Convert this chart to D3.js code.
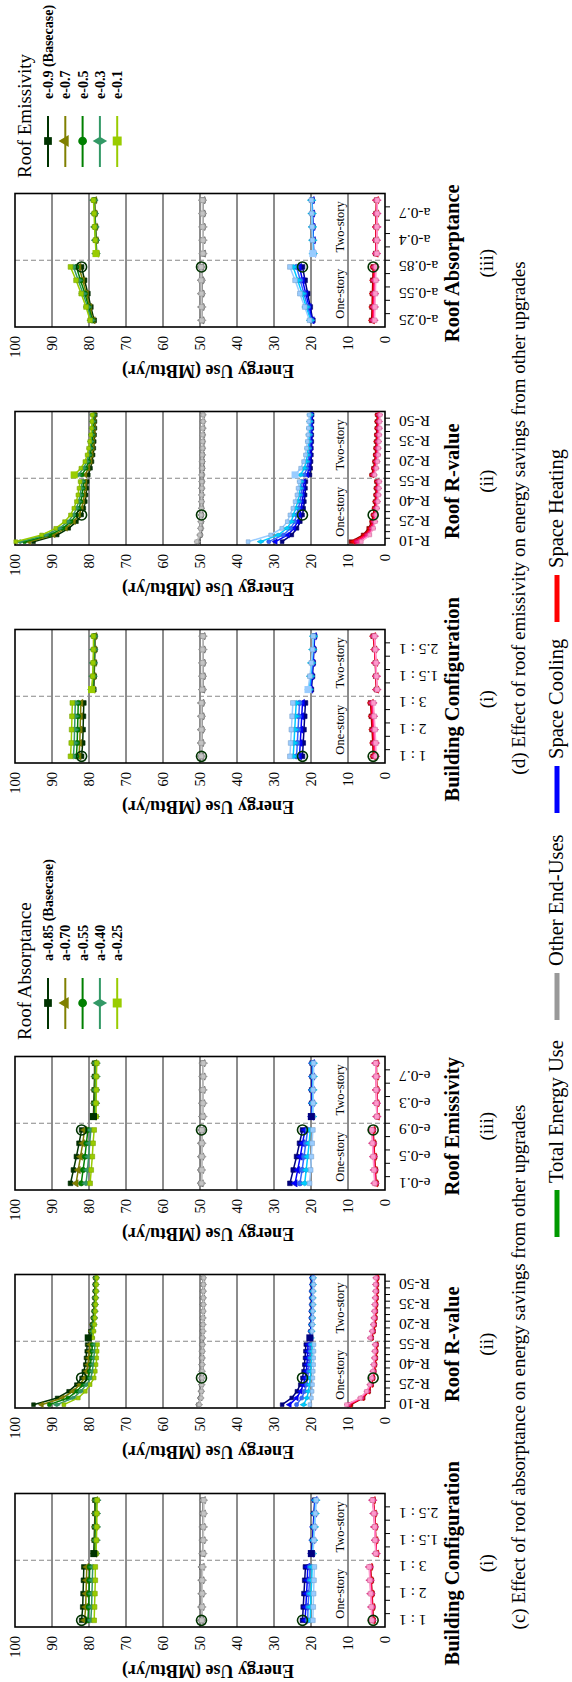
<!DOCTYPE html>
<html><head><meta charset="utf-8">
<script src="https://cdn.jsdelivr.net/npm/d3@7"></script>
<style>
body{margin:0;background:#fff}
svg{display:block}
text{font-family:"Liberation Serif","Times New Roman",serif;fill:#000}
</style></head>
<body><svg id="chart" width="572" height="1682"></svg>
<script>
// ---------------- categories & labels ----------------
const bcCats = ["1 : 1","1.5 : 1","2 : 1","2.5 : 1","3 : 1","1 : 1","1.5 : 1","2 : 1","2.5 : 1","3 : 1"];
const rCats = ["R-10","R-15","R-20","R-25","R-30","R-35","R-40","R-45","R-50","R-55",
               "R-10","R-15","R-20","R-25","R-30","R-35","R-40","R-45","R-50","R-55"];
const eCats = ["e-0.1","e-0.3","e-0.5","e-0.7","e-0.9","e-0.1","e-0.3","e-0.5","e-0.7","e-0.9"];
const aCats = ["a-0.25","a-0.4","a-0.55","a-0.7","a-0.85","a-0.25","a-0.4","a-0.55","a-0.7","a-0.85"];
const yTicks = [0,10,20,30,40,50,60,70,80,90,100];
const absSeries = ["a-0.85 (Basecase)","a-0.70","a-0.55","a-0.40","a-0.25"];
const emiSeries = ["e-0.9 (Basecase)","e-0.7","e-0.5","e-0.3","e-0.1"];
const groupNames = ["Total Energy Use","Other End-Uses","Space Cooling","Space Heating"];
// basecase (a-0.85, e-0.9, R-30, 1:1): total, other, cooling, heating
const basecase = [82.0, 49.6, 22.3, 3.2];

// ---------------- (c) absorptance series: a-0.85, a-0.70, a-0.55, a-0.40, a-0.25 ----------------
const cBC_total = [
 [82.0,81.7,81.6,81.5,81.4, 78.7,78.6,78.5,78.4,78.4],
 [81.2,80.9,80.8,80.7,80.6, 78.5,78.4,78.3,78.3,78.2],
 [80.3,80.1,80.0,79.9,79.8, 78.4,78.3,78.2,78.1,78.1],
 [79.5,79.3,79.2,79.1,79.0, 78.2,78.1,78.0,78.0,77.9],
 [78.6,78.5,78.4,78.3,78.3, 78.1,78.0,77.9,77.9,77.8]];
const cBC_other = [
 [49.6,49.6,49.5,49.5,49.5, 49.3,49.2,49.2,49.2,49.2],
 [49.6,49.5,49.5,49.5,49.4, 49.2,49.2,49.2,49.1,49.1],
 [49.5,49.5,49.5,49.4,49.4, 49.2,49.2,49.1,49.1,49.1],
 [49.5,49.5,49.4,49.4,49.4, 49.2,49.1,49.1,49.1,49.1],
 [49.5,49.4,49.4,49.4,49.3, 49.1,49.1,49.1,49.0,49.0]];
const cBC_cool = [
 [22.3,22.1,21.9,21.7,21.5, 19.9,19.6,19.4,19.2,19.0],
 [21.6,21.4,21.2,21.0,20.9, 19.8,19.5,19.3,19.1,18.9],
 [20.9,20.8,20.6,20.4,20.3, 19.7,19.4,19.2,19.0,18.8],
 [20.2,20.1,20.0,19.8,19.7, 19.6,19.3,19.1,18.9,18.7],
 [19.5,19.4,19.3,19.2,19.1, 19.5,19.2,19.0,18.8,18.6]];
const cBC_heat = [
 [3.2,3.3,3.5,3.7,3.9, 2.3,2.5,2.6,2.8,3.2],
 [3.3,3.4,3.6,3.8,4.0, 2.3,2.5,2.7,2.9,3.2],
 [3.4,3.5,3.7,3.9,4.1, 2.4,2.6,2.7,2.9,3.3],
 [3.5,3.6,3.8,4.0,4.2, 2.4,2.6,2.8,3.0,3.3],
 [3.6,3.7,3.9,4.1,4.3, 2.5,2.7,2.8,3.0,3.4]];

const cR_total = [
 [95.0,88.6,85.5,83.4,82.0,81.4,81.0,80.8,80.6,80.5, 80.2,79.6,79.2,78.9,78.7,78.6,78.5,78.4,78.4,78.3],
 [92.8,87.2,84.4,82.5,81.2,80.7,80.3,80.1,79.9,79.8, 79.9,79.4,79.0,78.8,78.6,78.5,78.4,78.3,78.3,78.2],
 [90.7,85.7,83.3,81.6,80.3,79.9,79.6,79.4,79.2,79.1, 79.6,79.2,78.9,78.7,78.5,78.4,78.3,78.2,78.2,78.1],
 [88.7,84.3,82.2,80.7,79.5,79.1,78.9,78.7,78.5,78.4, 79.3,79.0,78.7,78.5,78.4,78.3,78.2,78.1,78.1,78.0],
 [86.8,82.9,81.0,79.7,78.6,78.3,78.1,77.9,77.8,77.7, 79.0,78.7,78.5,78.4,78.3,78.2,78.1,78.0,78.0,77.9]];
const cR_other = [
 [50.4,49.9,49.7,49.6,49.6,49.5,49.5,49.5,49.4,49.4, 49.4,49.3,49.3,49.3,49.2,49.2,49.2,49.2,49.2,49.2],
 [50.3,49.9,49.7,49.6,49.5,49.5,49.5,49.4,49.4,49.4, 49.4,49.3,49.3,49.2,49.2,49.2,49.2,49.2,49.1,49.1],
 [50.3,49.8,49.6,49.5,49.5,49.5,49.4,49.4,49.4,49.4, 49.3,49.3,49.2,49.2,49.2,49.2,49.1,49.1,49.1,49.1],
 [50.2,49.8,49.6,49.5,49.5,49.4,49.4,49.4,49.4,49.3, 49.3,49.2,49.2,49.2,49.2,49.1,49.1,49.1,49.1,49.1],
 [50.2,49.7,49.6,49.5,49.4,49.4,49.4,49.4,49.3,49.3, 49.3,49.2,49.2,49.2,49.1,49.1,49.1,49.1,49.1,49.0]];
const cR_cool = [
 [27.8,25.2,23.8,22.9,22.3,22.0,21.8,21.6,21.5,21.4, 20.3,20.1,20.0,19.9,19.9,19.8,19.8,19.8,19.7,19.7],
 [25.8,23.9,22.8,22.1,21.6,21.3,21.1,21.0,20.9,20.8, 20.2,20.0,19.9,19.8,19.8,19.7,19.7,19.7,19.6,19.6],
 [23.9,22.5,21.7,21.2,20.9,20.7,20.5,20.4,20.3,20.2, 20.1,19.9,19.8,19.7,19.7,19.6,19.6,19.6,19.5,19.5],
 [22.0,21.1,20.7,20.4,20.2,20.0,19.9,19.8,19.7,19.7, 20.0,19.8,19.7,19.6,19.6,19.5,19.5,19.5,19.4,19.4],
 [20.3,19.9,19.7,19.6,19.5,19.4,19.3,19.3,19.2,19.2, 19.9,19.7,19.6,19.5,19.5,19.4,19.4,19.4,19.3,19.3]];
const cR_heat = [
 [9.2,5.9,4.4,3.6,3.2,2.9,2.7,2.5,2.4,2.3, 3.6,3.1,2.8,2.6,2.5,2.4,2.3,2.2,2.2,2.1],
 [9.5,6.1,4.5,3.7,3.3,3.0,2.8,2.6,2.5,2.4, 3.7,3.2,2.9,2.7,2.6,2.5,2.4,2.3,2.3,2.2],
 [9.8,6.3,4.7,3.9,3.4,3.1,2.9,2.7,2.6,2.5, 3.8,3.3,3.0,2.8,2.7,2.6,2.5,2.4,2.4,2.3],
 [10.1,6.5,4.8,4.0,3.5,3.2,3.0,2.8,2.7,2.6, 3.9,3.4,3.1,2.9,2.8,2.7,2.6,2.5,2.5,2.4],
 [10.4,6.7,5.0,4.1,3.6,3.3,3.1,2.9,2.8,2.7, 4.0,3.5,3.2,3.0,2.9,2.8,2.7,2.6,2.6,2.5]];

const cE_total = [
 [85.0,84.2,83.4,82.7,82.0, 78.8,78.7,78.6,78.5,78.5],
 [83.5,82.9,82.3,81.7,81.2, 78.6,78.5,78.5,78.4,78.4],
 [82.1,81.6,81.1,80.7,80.3, 78.5,78.4,78.3,78.3,78.2],
 [80.8,80.4,80.1,79.8,79.5, 78.3,78.2,78.2,78.1,78.1],
 [79.7,79.4,79.1,78.9,78.6, 78.1,78.1,78.0,78.0,77.9]];
const cE_other = [
 [49.7,49.7,49.6,49.6,49.6, 49.3,49.3,49.3,49.2,49.2],
 [49.7,49.6,49.6,49.6,49.5, 49.3,49.3,49.2,49.2,49.2],
 [49.6,49.6,49.6,49.5,49.5, 49.3,49.2,49.2,49.2,49.2],
 [49.6,49.6,49.5,49.5,49.5, 49.2,49.2,49.2,49.2,49.1],
 [49.6,49.5,49.5,49.5,49.5, 49.2,49.2,49.2,49.1,49.1]];
const cE_cool = [
 [25.7,24.8,23.9,23.1,22.3, 19.9,19.8,19.8,19.7,19.7],
 [24.3,23.6,22.9,22.3,21.6, 19.8,19.7,19.7,19.6,19.6],
 [23.0,22.4,21.9,21.4,20.9, 19.7,19.6,19.6,19.5,19.5],
 [21.7,21.3,20.9,20.5,20.2, 19.6,19.5,19.5,19.4,19.4],
 [20.4,20.1,19.9,19.7,19.5, 19.5,19.4,19.4,19.3,19.3]];
const cE_heat = [
 [2.4,2.6,2.8,3.0,3.2, 2.1,2.2,2.2,2.3,2.3],
 [2.5,2.7,2.9,3.1,3.3, 2.1,2.2,2.3,2.3,2.4],
 [2.6,2.8,3.0,3.2,3.4, 2.2,2.2,2.3,2.4,2.4],
 [2.7,2.9,3.1,3.3,3.5, 2.2,2.3,2.3,2.4,2.5],
 [2.8,3.0,3.2,3.4,3.6, 2.2,2.3,2.4,2.4,2.5]];

// ---------------- (d) emissivity series: e-0.9, e-0.7, e-0.5, e-0.3, e-0.1 ----------------
const dBC_total = [
 [82.0,81.7,81.6,81.5,81.4, 78.7,78.6,78.5,78.4,78.4],
 [82.7,82.5,82.4,82.3,82.2, 78.9,78.7,78.6,78.5,78.5],
 [83.4,83.2,83.1,83.0,82.9, 79.0,78.8,78.7,78.6,78.6],
 [84.2,84.0,83.9,83.8,83.7, 79.2,78.9,78.8,78.7,78.7],
 [85.0,84.8,84.7,84.6,84.5, 79.3,79.0,78.9,78.8,78.8]];
const dBC_other = [
 [49.6,49.6,49.5,49.5,49.5, 49.3,49.2,49.2,49.2,49.2],
 [49.6,49.6,49.6,49.5,49.5, 49.3,49.2,49.2,49.2,49.2],
 [49.6,49.6,49.6,49.6,49.5, 49.3,49.3,49.2,49.2,49.2],
 [49.7,49.6,49.6,49.6,49.6, 49.3,49.3,49.3,49.2,49.2],
 [49.7,49.7,49.6,49.6,49.6, 49.4,49.3,49.3,49.3,49.2]];
const dBC_cool = [
 [22.3,22.1,21.9,21.7,21.5, 19.9,19.6,19.4,19.2,19.0],
 [23.1,22.9,22.7,22.5,22.3, 20.1,19.8,19.5,19.3,19.1],
 [23.9,23.7,23.5,23.3,23.1, 20.3,19.9,19.6,19.4,19.2],
 [24.8,24.6,24.4,24.2,24.0, 20.5,20.1,19.8,19.5,19.3],
 [25.7,25.5,25.3,25.1,24.9, 20.8,20.3,19.9,19.6,19.4]];
const dBC_heat = [
 [3.2,3.3,3.5,3.7,3.9, 2.3,2.5,2.6,2.8,3.2],
 [3.0,3.1,3.3,3.5,3.7, 2.3,2.4,2.6,2.8,3.1],
 [2.8,2.9,3.1,3.3,3.5, 2.2,2.4,2.5,2.7,3.0],
 [2.6,2.7,2.9,3.1,3.3, 2.2,2.3,2.5,2.6,2.9],
 [2.4,2.5,2.7,2.9,3.1, 2.1,2.3,2.4,2.6,2.8]];

const dR_total = [
 [95.0,88.6,85.5,83.4,82.0,81.4,81.0,80.8,80.6,80.5, 80.2,79.6,79.2,78.9,78.7,78.6,78.5,78.4,78.4,78.3],
 [96.2,89.6,86.3,84.1,82.7,82.0,81.6,81.3,81.1,81.0, 81.0,80.2,79.6,79.3,79.0,78.9,78.7,78.6,78.6,78.5],
 [97.4,90.6,87.1,84.9,83.4,82.7,82.2,81.9,81.6,81.5, 81.9,80.8,80.1,79.7,79.4,79.2,79.0,78.9,78.8,78.7],
 [98.6,91.7,88.0,85.7,84.2,83.4,82.8,82.4,82.1,81.9, 82.9,81.5,80.6,80.1,79.7,79.5,79.3,79.1,79.0,78.9],
 [99.8,92.8,89.0,86.6,85.0,84.1,83.4,83.0,82.7,82.4, 84.0,82.2,81.1,80.5,80.1,79.8,79.5,79.3,79.2,79.1]];
const dR_other = [
 [50.4,49.9,49.7,49.6,49.6,49.5,49.5,49.5,49.4,49.4, 49.4,49.3,49.3,49.3,49.2,49.2,49.2,49.2,49.2,49.2],
 [50.5,49.9,49.7,49.7,49.6,49.5,49.5,49.5,49.5,49.4, 49.4,49.3,49.3,49.3,49.3,49.2,49.2,49.2,49.2,49.2],
 [50.6,50.0,49.8,49.7,49.6,49.6,49.5,49.5,49.5,49.5, 49.5,49.4,49.3,49.3,49.3,49.3,49.2,49.2,49.2,49.2],
 [50.7,50.0,49.8,49.7,49.7,49.6,49.6,49.5,49.5,49.5, 49.5,49.4,49.4,49.3,49.3,49.3,49.3,49.2,49.2,49.2],
 [50.9,50.1,49.9,49.8,49.7,49.6,49.6,49.6,49.5,49.5, 49.6,49.4,49.4,49.4,49.3,49.3,49.3,49.3,49.2,49.2]];
const dR_cool = [
 [27.8,25.2,23.8,22.9,22.3,22.0,21.8,21.6,21.5,21.4, 20.3,20.1,20.0,19.9,19.9,19.8,19.8,19.8,19.7,19.7],
 [29.6,26.3,24.6,23.6,23.1,22.7,22.4,22.2,22.0,21.9, 21.0,20.6,20.4,20.2,20.1,20.0,20.0,19.9,19.9,19.9],
 [31.4,27.5,25.5,24.4,23.9,23.4,23.0,22.7,22.5,22.4, 21.8,21.1,20.8,20.6,20.4,20.3,20.2,20.1,20.1,20.0],
 [33.6,28.9,26.5,25.3,24.8,24.1,23.6,23.2,23.0,22.8, 22.8,21.8,21.3,21.0,20.8,20.6,20.5,20.4,20.3,20.2],
 [37.0,30.9,27.9,26.4,25.7,24.9,24.3,23.8,23.5,23.2, 24.3,22.8,22.0,21.5,21.2,21.0,20.8,20.7,20.6,20.5]];
const dR_heat = [
 [9.2,5.9,4.4,3.6,3.2,2.9,2.7,2.5,2.4,2.3, 3.6,3.1,2.8,2.6,2.5,2.4,2.3,2.2,2.2,2.1],
 [8.5,5.4,4.0,3.3,3.0,2.7,2.5,2.3,2.2,2.1, 3.4,2.9,2.6,2.4,2.3,2.2,2.1,2.0,2.0,1.9],
 [7.8,5.0,3.7,3.1,2.8,2.5,2.3,2.1,2.0,1.9, 3.2,2.7,2.4,2.2,2.1,2.0,1.9,1.8,1.8,1.7],
 [7.1,4.5,3.4,2.8,2.6,2.3,2.1,1.9,1.8,1.7, 3.0,2.5,2.2,2.0,1.9,1.8,1.7,1.6,1.6,1.5],
 [6.4,4.1,3.1,2.6,2.4,2.1,1.9,1.7,1.6,1.5, 2.8,2.3,2.0,1.8,1.7,1.6,1.5,1.4,1.4,1.3]];

const dA_total = [
 [78.6,79.5,80.3,81.2,82.0, 77.9,78.1,78.2,78.4,78.5],
 [78.9,79.8,80.7,81.7,82.7, 78.0,78.1,78.3,78.4,78.5],
 [79.1,80.1,81.1,82.3,83.4, 78.0,78.2,78.3,78.5,78.6],
 [79.4,80.4,81.6,82.9,84.2, 78.1,78.2,78.4,78.5,78.7],
 [79.7,80.8,82.1,83.5,85.0, 78.1,78.3,78.5,78.6,78.8]];
const dA_other = [
 [49.5,49.5,49.5,49.5,49.6, 49.1,49.2,49.2,49.2,49.2],
 [49.5,49.5,49.5,49.6,49.6, 49.1,49.2,49.2,49.2,49.2],
 [49.5,49.5,49.6,49.6,49.6, 49.2,49.2,49.2,49.2,49.3],
 [49.5,49.5,49.6,49.6,49.7, 49.2,49.2,49.2,49.3,49.3],
 [49.5,49.6,49.6,49.7,49.7, 49.2,49.2,49.3,49.3,49.3]];
const dA_cool = [
 [19.5,20.2,20.9,21.6,22.3, 19.3,19.4,19.5,19.6,19.7],
 [19.7,20.5,21.4,22.3,23.1, 19.3,19.4,19.5,19.6,19.7],
 [19.9,20.9,21.9,22.9,23.9, 19.4,19.5,19.6,19.7,19.8],
 [20.1,21.3,22.4,23.6,24.8, 19.4,19.5,19.6,19.7,19.8],
 [20.4,21.7,23.0,24.3,25.7, 19.5,19.6,19.7,19.8,19.9]];
const dA_heat = [
 [3.6,3.5,3.4,3.3,3.2, 2.5,2.5,2.4,2.4,2.3],
 [3.4,3.3,3.2,3.1,3.0, 2.4,2.4,2.4,2.3,2.3],
 [3.2,3.1,3.0,2.9,2.8, 2.4,2.3,2.3,2.3,2.2],
 [3.0,2.9,2.8,2.7,2.6, 2.3,2.3,2.2,2.2,2.2],
 [2.8,2.7,2.6,2.5,2.4, 2.2,2.2,2.2,2.1,2.1]];

// ---------------- styling ----------------
const palettes = [
 ["#003300","#808000","#008000","#339966","#99CC00"],
 ["#555555","#777777","#909090","#AAAAAA","#C4C4C4"],
 ["#000080","#0000FF","#3366FF","#00CCFF","#99CCFF"],
 ["#990000","#FF0000","#FF0066","#FF3399","#FF99CC"]];
const symbols = [d3.symbolSquare, d3.symbolTriangle, d3.symbolCircle, d3.symbolDiamond, d3.symbolSquare];
const groupColors = ["#009900","#999999","#0000FF","#FF0000"];

const svg = d3.select("#chart");
const root = svg.append("g").attr("transform","translate(0,1682) rotate(-90)");
const y = d3.scaleLinear().domain([0,100]).range([385,15]);
const BW = 133.5;

const panels = [
 {left:55,   cats:bcCats, lab:2, tick:1, title:"Building Configuration", num:"(i)",   data:[cBC_total,cBC_other,cBC_cool,cBC_heat], base:0, big:0},
 {left:274,  cats:rCats,  lab:3, tick:1, title:"Roof R-value",           num:"(ii)",  data:[cR_total,cR_other,cR_cool,cR_heat],     base:4, big:0},
 {left:492,  cats:eCats,  lab:2, tick:1, title:"Roof Emissivity",        num:"(iii)", data:[cE_total,cE_other,cE_cool,cE_heat],     base:4, big:0},
 {left:919,  cats:bcCats, lab:2, tick:1, title:"Building Configuration", num:"(i)",   data:[dBC_total,dBC_other,dBC_cool,dBC_heat], base:0, big:4},
 {left:1137, cats:rCats,  lab:3, tick:1, title:"Roof R-value",           num:"(ii)",  data:[dR_total,dR_other,dR_cool,dR_heat],     base:4, big:4},
 {left:1355, cats:aCats,  lab:2, tick:1, title:"Roof Absorptance",       num:"(iii)", data:[dA_total,dA_other,dA_cool,dA_heat],     base:4, big:4}
];

panels.forEach(p => {
  const n = p.cats.length, half = n/2;
  const x = d3.scaleBand().domain(d3.range(n)).range([p.left, p.left+BW]);
  const cx = i => x(i) + x.bandwidth()/2;
  const g = root.append("g");
  const mk = n > 10 ? 14 : 22;

  g.selectAll("line.grid").data(yTicks.filter(t => t>0 && t<100)).join("line")
    .attr("x1",p.left).attr("x2",p.left+BW).attr("y1",d=>y(d)).attr("y2",d=>y(d))
    .attr("stroke","#000").attr("stroke-width",0.9);
  g.append("line").attr("x1",p.left+BW/2).attr("x2",p.left+BW/2).attr("y1",y(100)).attr("y2",y(0))
    .attr("stroke","#888").attr("stroke-width",1.2).attr("stroke-dasharray","5,3");
  g.append("rect").attr("x",p.left).attr("y",y(100)).attr("width",BW).attr("height",y(0)-y(100))
    .attr("fill","none").attr("stroke","#000").attr("stroke-width",1.6);
  const bounds = d3.range(1,n).filter(i => i % p.tick === 0);
  g.selectAll("line.ct").data(bounds).join("line")
    .attr("x1",i=>x(i)).attr("x2",i=>x(i)).attr("y1",y(0)).attr("y2",y(0)+5)
    .attr("stroke","#000").attr("stroke-width",1);
  g.selectAll("text.cl").data(d3.range(n).filter(i => i % p.lab === 0)).join("text")
    .attr("transform",i=>`translate(${cx(i)},${y(0)+14}) rotate(-90)`)
    .attr("text-anchor","end").attr("dy","0.35em").attr("font-size",15.5)
    .text(i => p.cats[i]);
  g.selectAll("text.yl").data(yTicks).join("text")
    .attr("x",p.left-9).attr("y",d=>y(d)).attr("dy","0.35em").attr("text-anchor","end")
    .attr("font-size",14.5).text(d=>d);
  g.append("text").attr("transform",`translate(${p.left-38},${y(50)+8}) rotate(-90)`)
    .attr("text-anchor","middle").attr("font-size",18).attr("font-weight","bold")
    .text("Energy Use (MBtu/yr)");
  g.append("text").attr("x",p.left+BW/4).attr("y",344).attr("text-anchor","middle").attr("font-size",12.5).text("One-story");
  g.append("text").attr("x",p.left+3*BW/4).attr("y",344).attr("text-anchor","middle").attr("font-size",12.5).text("Two-story");
  g.append("text").attr("x",p.left+BW/2-3).attr("y",459).attr("text-anchor","middle")
    .attr("font-size",20.5).attr("font-weight","bold").text(p.title);
  g.append("text").attr("x",p.left+BW/2-3).attr("y",493).attr("text-anchor","middle")
    .attr("font-size",19).text(p.num);

  const line = d3.line().x(d=>cx(d[0])).y(d=>y(d[1]));
  p.data.forEach((grp, gi) => {
    [0,1,2,3,4].forEach(si => {
      const vals = grp[si];
      const col = palettes[gi][si];
      [d3.range(0,half), d3.range(half,n)].forEach(seg => {
        g.append("path").attr("d", line(seg.map(i=>[i, vals[i]])))
          .attr("fill","none").attr("stroke",col).attr("stroke-width",1.5);
      });
      g.selectAll(null).data(d3.range(n)).join("path")
        .attr("transform", i => `translate(${cx(i)},${y(vals[i])})`)
        .attr("d", d3.symbol(symbols[si], mk)())
        .attr("fill", col).attr("stroke", d3.color(col).darker(0.6)).attr("stroke-width",0.6);
    });
    // emphasised first two-story point of the highlighted series (total & cooling)
    if (gi === 0 || gi === 2) {
      const col = palettes[gi][p.big];
      g.append("path").attr("transform",`translate(${cx(half)},${y(grp[p.big][half])})`)
        .attr("d", d3.symbol(d3.symbolSquare, 50)()).attr("fill", col);
    }
    g.append("circle").attr("cx",cx(p.base)).attr("cy",y(basecase[gi])).attr("r",5)
      .attr("fill","none").attr("stroke","#003300").attr("stroke-width",1.6);
  });
});

root.append("text").attr("x",315).attr("y",525).attr("text-anchor","middle").attr("font-size",19)
  .text("(c) Effect of roof absorptance on energy savings from other upgrades");
root.append("text").attr("x",1164).attr("y",525).attr("text-anchor","middle").attr("font-size",19)
  .text("(d) Effect of roof emissivity on energy savings from other upgrades");

function seriesLegend(x0, title, names) {
  const g = root.append("g");
  g.append("text").attr("x",x0).attr("y",31).attr("font-size",19).text(title);
  names.forEach((nm, i) => {
    const yy = 48 + i*17.3;
    const col = palettes[0][i];
    g.append("line").attr("x1",x0+11).attr("x2",x0+62).attr("y1",yy).attr("y2",yy)
      .attr("stroke",col).attr("stroke-width",2);
    g.append("path").attr("transform",`translate(${x0+37},${yy})`)
      .attr("d", d3.symbol(symbols[i], i===4 ? 80 : 60)()).attr("fill",col);
    g.append("text").attr("x",x0+79).attr("y",yy+5).attr("font-size",14).attr("font-weight","bold").text(nm);
  });
}
seriesLegend(642, "Roof Absorptance", absSeries);
seriesLegend(1504, "Roof Emissivity", emiSeries);

const legX = [445, 662, 869, 1060];
groupNames.forEach((nm, i) => {
  root.append("line").attr("x1",legX[i]).attr("x2",legX[i]+47).attr("y1",557).attr("y2",557)
    .attr("stroke",groupColors[i]).attr("stroke-width",5);
  root.append("text").attr("x",legX[i]+54).attr("y",563).attr("font-size",20.5).text(nm);
});
</script></body></html>
